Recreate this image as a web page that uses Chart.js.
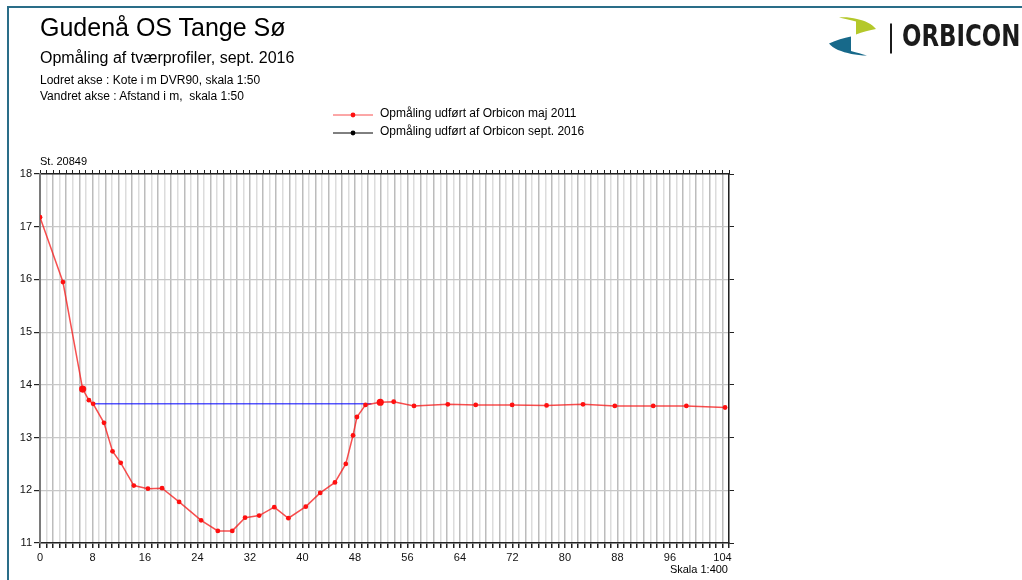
<!DOCTYPE html>
<html>
<head>
<meta charset="utf-8">
<script src="https://cdn.jsdelivr.net/npm/chart.js@4.4.1/dist/chart.umd.min.js"></script>
<style>
  html, body { margin: 0; padding: 0; background: #fff; }
  #page { position: relative; width: 1022px; height: 580px; overflow: hidden;
          font-family: "Liberation Sans", Arial, sans-serif; color: #000; }
  #frame { position: absolute; left: 7px; top: 6px; width: 1200px; height: 800px;
           border-left: 2px solid #2a6d88; border-top: 2px solid #2a6d88; }
  #chart { position: absolute; left: 0; top: 0; }
  .txt { position: absolute; line-height: 1; white-space: pre; }
  #t1 { left: 40px; top: 15px; font-size: 25px; }
  #t2 { left: 40px; top: 50px; font-size: 16px; }
  #t3 { left: 40px; top: 74px; font-size: 12px; }
  #t4 { left: 40px; top: 90px; font-size: 12px; }
  #st { left: 40px; top: 156px; font-size: 11px; }
  #skala { right: 294px; top: 564px; font-size: 11px; }
  #legend { position: absolute; left: 333px; top: 107px; }
  .leg { position: relative; height: 18px; }
  .leg svg { position: absolute; left: 0; top: 3px; }
  .leg span { position: absolute; left: 47px; top: 0; font-size: 12px; line-height: 1; white-space: nowrap; }
  #logo { position: absolute; left: 826px; top: 14px; }
  #logotxt { position: absolute; left: 902px; top: 19.5px; font-family: "DejaVu Sans Condensed", "DejaVu Sans", sans-serif;
             font-weight: bold; font-size: 31px; line-height: 1; color: #1b1b1b; transform: scaleX(0.82);
             transform-origin: left top; white-space: nowrap; }
</style>
</head>
<body>
<div id="page">
  <div id="frame"></div>
  <canvas id="chart" width="1022" height="580"></canvas>
  <div class="txt" id="t1">Gudenå OS Tange Sø</div>
  <div class="txt" id="t2">Opmåling af tværprofiler, sept. 2016</div>
  <div class="txt" id="t3">Lodret akse : Kote i m DVR90, skala 1:50</div>
  <div class="txt" id="t4">Vandret akse : Afstand i m,  skala 1:50</div>
  <div class="txt" id="st">St. 20849</div>
  <div class="txt" id="skala">Skala 1:400</div>
  <div id="legend"></div>
  <svg id="logo" width="70" height="46" viewBox="826 14 70 46">
    <path d="M839,17.5 C845,17 851,17.5 857,19 C865,20.5 872,24 876,29 C870,30 862,32 856,34.5 L856,21.5 C851,20 845,19 839,17.5 Z" fill="#b4c82a"/>
    <path d="M829,43.5 C836,40 844,38 851,36.5 L851,51 C857,52.5 862,54 867,55.5 C856,55.5 846,53 838,50 C834,48 831,46 829,43.5 Z" fill="#17698a"/>
    <rect x="890" y="23.5" width="2" height="30" fill="#1b1b1b"/>
  </svg>
  <div id="logotxt">ORBICON</div>
</div>
<script>
// Tværprofil St. 20849 – opmåling maj 2011 (afstand i m, kote i m DVR90)
const afstand2011 = [0, 3.5, 6.5, 7.45, 8.1, 9.75, 11.05, 12.3, 14.3, 16.45,
  18.6, 21.2, 24.55, 27.1, 29.3, 31.25, 33.4, 35.7, 37.85, 40.5,
  42.7, 44.95, 46.6, 47.7, 48.3, 49.6, 51.85, 53.9, 57.0, 62.15,
  66.4, 71.95, 77.2, 82.75, 87.6, 93.45, 98.5, 104.4];
const kote2011 = [17.18, 15.95, 13.92, 13.71, 13.64, 13.28, 12.74, 12.52, 12.09, 12.03,
  12.04, 11.78, 11.43, 11.23, 11.23, 11.48, 11.52, 11.68, 11.47, 11.69,
  11.95, 12.15, 12.50, 13.04, 13.39, 13.62, 13.67, 13.68, 13.60, 13.63,
  13.62, 13.62, 13.61, 13.63, 13.60, 13.60, 13.60, 13.57];
// Fikspunkter (indeks i 2011-målingen) vist med større markering
const fikspunkter2011 = [2, 26];

// Opmåling sept. 2016
const afstand2016 = [];
const kote2016 = [];

// Vandspejl
const vandspejlAfstand = [8.1, 50.5];
const vandspejlKote = [13.64, 13.64];

// Akser
const xMin = 0, xMax = 105, xLabelStep = 8;
const yMin = 11, yMax = 18;

const labels = ["Opmåling udført af Orbicon maj 2011", "Opmåling udført af Orbicon sept. 2016"];

const toPoints = (xs, ys) => xs.map((x, i) => ({ x: x, y: ys[i] }));

const fixedWidth = (w) => (scale) => { scale.width = w; };
const fixedHeight = (h) => (scale) => { scale.height = h; };

const tickFont = { family: "'Liberation Sans', Arial, sans-serif", size: 11 };

const chart = new Chart(document.getElementById('chart'), {
  type: 'scatter',
  data: {
    datasets: [
      {
        label: labels[0],
        inLegend: true,
        data: toPoints(afstand2011, kote2011),
        showLine: true,
        borderColor: 'rgba(245,20,20,0.75)',
        backgroundColor: '#ff1010',
        borderWidth: 1.5,
        pointBorderWidth: 0,
        pointRadius: (ctx) => fikspunkter2011.includes(ctx.dataIndex) ? 3.6 : 2.4,
        pointHoverRadius: 3,
        order: 1
      },
      {
        label: labels[1],
        inLegend: true,
        data: toPoints(afstand2016, kote2016),
        showLine: true,
        borderColor: '#000',
        backgroundColor: '#000',
        borderWidth: 1,
        pointRadius: 2.4,
        order: 0
      },
      {
        label: 'Vandspejl',
        inLegend: false,
        data: toPoints(vandspejlAfstand, vandspejlKote),
        showLine: true,
        borderColor: '#0000ff',
        borderWidth: 1,
        pointRadius: 0,
        order: 2
      }
    ]
  },
  options: {
    responsive: false,
    animation: false,
    events: [],
    layout: { padding: 0 },
    plugins: { legend: { display: false }, tooltip: { enabled: false } },
    scales: {
      x: {
        type: 'linear', position: 'bottom', min: xMin, max: xMax,
        afterFit: fixedHeight(37),
        border: { color: '#222', width: 1.5 },
        grid: {
          color: (ctx) => (ctx.tick && ctx.tick.value % 2 === 0) ? '#bcbcbc' : '#dcdcdc',
          lineWidth: 1.5,
          tickColor: '#222',
          tickLength: 5,
          drawTicks: true
        },
        ticks: {
          stepSize: 1, autoSkip: false, maxRotation: 0, padding: 3,
          color: '#111', font: tickFont,
          callback: (v) => (v % xLabelStep === 0 ? String(v) : '')
        }
      },
      xTop: {
        type: 'linear', position: 'top', min: xMin, max: xMax,
        afterFit: fixedHeight(174),
        border: { color: '#222', width: 1.5 },
        grid: { drawOnChartArea: false, tickColor: '#222', tickLength: 4 },
        ticks: { stepSize: 1, autoSkip: false, display: false }
      },
      y: {
        type: 'linear', position: 'left', min: yMin, max: yMax,
        afterFit: fixedWidth(40),
        border: { color: '#7a7a7a', width: 2 },
        grid: { color: '#c8c8c8', lineWidth: 1.2, tickColor: '#222', tickLength: 6 },
        ticks: { stepSize: 1, padding: 2, color: '#111', font: tickFont }
      },
      yRight: {
        type: 'linear', position: 'right', min: yMin, max: yMax,
        afterFit: fixedWidth(293),
        border: { color: '#222', width: 1.5 },
        grid: { drawOnChartArea: false, tickColor: '#222', tickLength: 5 },
        ticks: { stepSize: 1, display: false }
      }
    }
  }
});

// Forklaring bygget ud fra diagrammets dataserier
const legendEl = document.getElementById('legend');
chart.data.datasets.filter((ds) => ds.inLegend).forEach((ds) => {
  const row = document.createElement('div');
  row.className = 'leg';
  row.innerHTML =
    '<svg width="42" height="10"><line x1="0" y1="5" x2="40" y2="5" stroke="' + ds.borderColor +
    '" stroke-width="1"/><circle cx="20" cy="5" r="2.4" fill="' + ds.backgroundColor + '"/></svg>' +
    '<span></span>';
  row.querySelector('span').textContent = ds.label;
  legendEl.appendChild(row);
});
</script>
</body>
</html>
